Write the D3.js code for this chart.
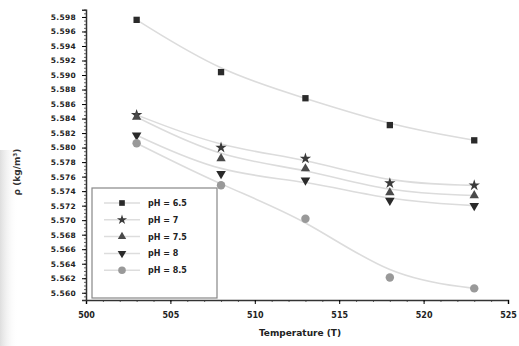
<!DOCTYPE html>
<html>
<head>
<meta charset="utf-8">
<script src="https://cdn.jsdelivr.net/npm/d3@7"></script>
<style>
  body { margin: 0; background: #fff; }
  svg { display: block; }
  .tick text { font-family: "DejaVu Sans", sans-serif; font-weight: bold; fill: #222; }
</style>
</head>
<body>
<div id="chart"></div>
<script>
// data
var temps = [503, 508, 513, 518, 523];
var seriesNames = ["pH = 6.5", "pH = 7", "pH = 7.5", "pH = 8", "pH = 8.5"];
var ph65 = [5.5976, 5.5904, 5.5868, 5.5831, 5.5810];
var ph7  = [5.5845, 5.5800, 5.5785, 5.5751, 5.5748];
var ph75 = [5.5842, 5.5785, 5.5771, 5.5738, 5.5734];
var ph8  = [5.5817, 5.5764, 5.5755, 5.5727, 5.5720];
var ph85 = [5.5806, 5.5748, 5.5702, 5.5621, 5.5606];
var xTicks = [500, 505, 510, 515, 520, 525];
var yTicks = d3.range(5.560, 5.5985, 0.002);

var width = 519, height = 346;
var svg = d3.select('#chart').append('svg')
      .attr('width', width)
      .attr('height', height);

var x = d3.scaleLinear().domain([500, 525]).range([86, 508]);
var y = d3.scaleLinear().domain([5.559, 5.599]).range([300, 9.7]);

//scan shadow on the left edge
var grad = svg.append('defs').append('linearGradient').attr('id', 'shade');
grad.append('stop').attr('offset', '0%').attr('stop-color', '#dedede');
grad.append('stop').attr('offset', '100%').attr('stop-color', '#fff').attr('stop-opacity', 0);
svg.append('rect').attr('x', 0).attr('y', 150).attr('width', 18).attr('height', 196)
      .style('fill', 'url(#shade)');

//minor ticks
svg.append('g')
      .attr('transform', 'translate(0,300)')
      .call(d3.axisBottom(x).ticks(25).tickSize(2).tickFormat(''))
      .call(function (g) { g.selectAll('path,line').attr('stroke', '#666'); });
svg.append('g')
      .attr('transform', 'translate(86,0)')
      .call(d3.axisLeft(y).tickValues(d3.range(5.559, 5.5991, 0.0005)).tickSize(2).tickFormat(''))
      .call(function (g) { g.selectAll('path,line').attr('stroke', '#666'); });

//main axes
var xAxis = svg.append('g')
      .attr('transform', 'translate(0,300)')
      .call(d3.axisBottom(x).tickValues(xTicks).tickSize(4).tickPadding(8).tickFormat(d3.format('d')));
xAxis.selectAll('text').style('font-size', '8px');
xAxis.select('.domain').attr('stroke', '#333').attr('stroke-width', 1.5);

var yAxis = svg.append('g')
      .attr('transform', 'translate(86,0)')
      .call(d3.axisLeft(y).tickValues(yTicks).tickSize(4).tickPadding(6).tickFormat(d3.format('.3f')));
yAxis.selectAll('text').style('font-size', '7.5px').attr('letter-spacing', '0.3px');
yAxis.select('.domain').attr('stroke', '#333').attr('stroke-width', 1.5);

//axis titles
svg.append('text')
      .attr('x', 300).attr('y', 336)
      .attr('text-anchor', 'middle')
      .style('font-family', '"DejaVu Sans", sans-serif')
      .style('font-weight', 'bold')
      .style('font-size', '9px')
      .style('fill', '#222')
      .text('Temperature (T)');
svg.append('text')
      .attr('transform', 'translate(20,172) rotate(-90)')
      .attr('text-anchor', 'middle')
      .style('font-family', '"DejaVu Sans", sans-serif')
      .style('font-weight', 'bold')
      .style('font-size', '9px')
      .style('fill', '#333')
      .text('ρ (kg/m³)');

var series = [
      { name: seriesNames[0], values: ph65, symbol: d3.symbolSquare, size: 40, color: '#2a2a2a' },
      { name: seriesNames[1], values: ph7, symbol: d3.symbolStar, size: 40, color: '#3a3a3a' },
      { name: seriesNames[2], values: ph75, symbol: d3.symbolTriangle, size: 38, color: '#4a4a4a' },
      { name: seriesNames[3], values: ph8, symbol: d3.symbolTriangle, size: 40, color: '#2a2a2a', flip: true },
      { name: seriesNames[4], values: ph85, symbol: d3.symbolCircle, size: 56, color: '#999' }
];

//trend lines
var line = d3.line()
      .x(function (d, i) { return x(temps[i]); })
      .y(function (d) { return y(d); })
      .curve(d3.curveBasis);
svg.selectAll('.trend')
      .data(series)
      .enter().append('path')
      .attr('class', 'trend')
      .attr('d', function (s) { return line(s.values); })
      .attr('fill', 'none')
      .attr('stroke', '#dcdcdc')
      .attr('stroke-width', 1.6);

//markers
series.forEach(function (s) {
      svg.selectAll(null)
            .data(s.values)
            .enter().append('path')
            .attr('d', d3.symbol().type(s.symbol).size(s.size))
            .attr('transform', function (d, i) {
                  return 'translate(' + x(temps[i]) + ',' + y(d) + ')' + (s.flip ? ' rotate(180)' : '');
            })
            .attr('fill', s.color);
});

//legend
var legend = svg.append('g');
legend.append('rect')
      .attr('x', 92).attr('y', 188).attr('width', 125).attr('height', 110)
      .attr('fill', '#fff')
      .attr('stroke', '#888')
      .attr('stroke-width', 1.2);
var items = legend.selectAll('.item')
      .data(series)
      .enter().append('g')
      .attr('transform', function (d, i) { return 'translate(0,' + (203 + i * 16.8) + ')'; });
items.append('line')
      .attr('x1', 104).attr('x2', 140)
      .attr('stroke', '#ddd').attr('stroke-width', 1.5);
items.append('path')
      .attr('d', function (s) { return d3.symbol().type(s.symbol).size(s.size * 0.8)(); })
      .attr('transform', function (s) { return 'translate(122,0)' + (s.flip ? ' rotate(180)' : ''); })
      .attr('fill', function (s) { return s.color; });
items.append('text')
      .attr('x', 148).attr('y', 3)
      .style('font-family', '"DejaVu Sans", sans-serif')
      .style('font-weight', 'bold')
      .style('font-size', '8px')
      .style('fill', '#222')
      .text(function (s) { return s.name; });
</script>
</body>
</html>
